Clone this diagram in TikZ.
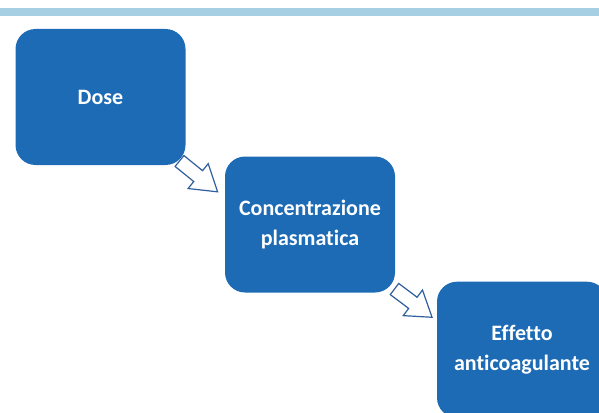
\documentclass[tikz,border=0pt]{standalone}
\usepackage{fontspec}
\setmainfont[Ligatures=NoCommon]{Carlito}
\definecolor{boxblue}{HTML}{1C6BB4}
\definecolor{bandblue}{HTML}{A6CFE3}
\definecolor{arrowline}{HTML}{2F5E9E}
\begin{document}
\begin{tikzpicture}[x=1pt,y=-1pt,
  stepbox/.style={draw=none,fill=boxblue,rounded corners=20pt,minimum width=170pt,minimum height=136pt,
    text=white,font=\fontsize{22}{30}\selectfont\bfseries,align=center,inner sep=0pt},
  blockarrow/.style={draw=arrowline,line width=1.2pt,fill=white,line join=miter}]
\useasboundingbox (0,0) rectangle (599,412);
\clip (0,0) rectangle (599,412);
\fill[bandblue] (0,8.5) rectangle (599,16.5);
\node[stepbox] (dose) at (100.5,97) {Dose};
\node[stepbox] (conc) at (310,224.5) {Concentrazione\\plasmatica};
\node[stepbox] (eff) at (522,349.7) {Effetto\\anticoagulante};
\coordinate (a1) at (179.5,161);
\coordinate (a2) at (394.5,289);
\begin{scope}[shift={(a1)},rotate=-39]
  \draw[blockarrow] (0,-7) -- (24,-7) -- (24,-16) -- (49,0) -- (24,16) -- (24,7) -- (0,7) -- cycle;
\end{scope}
\begin{scope}[shift={(a2)},rotate=-37]
  \draw[blockarrow] (0,-7) -- (23,-7) -- (23,-16) -- (47,0) -- (23,16) -- (23,7) -- (0,7) -- cycle;
\end{scope}
\end{tikzpicture}
\end{document}
